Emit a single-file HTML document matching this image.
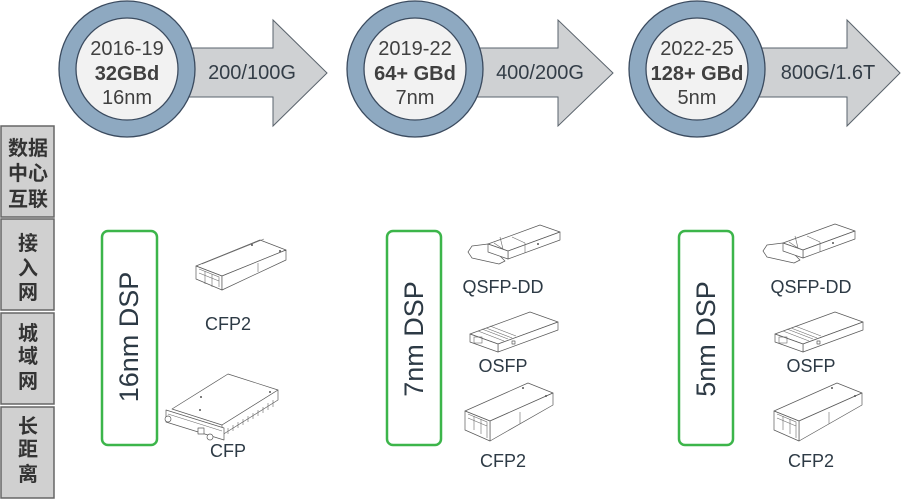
<!DOCTYPE html>
<html>
<head>
<meta charset="utf-8">
<style>
html,body{margin:0;padding:0;background:#fff;}
svg{display:block;}
.lat{font-family:"Liberation Sans","Noto Sans CJK SC",sans-serif;}
.cjk{font-family:"Liberation Sans","Noto Sans CJK SC",sans-serif;font-weight:bold;}
.m{fill:#fff;stroke:#5a5a5a;stroke-width:0.7;stroke-linejoin:round;}
.l{fill:none;stroke:#6a6a6a;stroke-width:0.6;}
</style>
</head>
<body>
<svg width="902" height="499" viewBox="0 0 902 499" xmlns="http://www.w3.org/2000/svg">
  <!-- Arrows -->
  <g fill="#cfd1d3" stroke="#5a636c" stroke-width="1">
    <polygon points="127,48 273,48 273,20 327,73 273,126 273,97 127,97"/>
    <polygon points="415,48 558,48 558,20 613,73 558,126 558,97 415,97"/>
    <polygon points="697,48 847,48 847,20 900,73 847,126 847,97 697,97"/>
  </g>
  <!-- Circles -->
  <g stroke="#3b4b5f" stroke-width="1.3">
    <circle cx="127" cy="69" r="68" fill="#8ea9c1"/>
    <circle cx="127" cy="69" r="51" fill="#f2f2f2"/>
    <circle cx="415" cy="69" r="68" fill="#8ea9c1"/>
    <circle cx="415" cy="69" r="51" fill="#f2f2f2"/>
    <circle cx="697" cy="69" r="68" fill="#8ea9c1"/>
    <circle cx="697" cy="69" r="51" fill="#f2f2f2"/>
  </g>
  <g class="lat" fill="#404040" font-size="20" text-anchor="middle">
    <text x="127" y="55">2016-19</text>
    <text x="127" y="80" font-weight="bold">32GBd</text>
    <text x="127" y="104">16nm</text>
    <text x="415" y="55">2019-22</text>
    <text x="415" y="80" font-weight="bold">64+ GBd</text>
    <text x="415" y="104">7nm</text>
    <text x="697" y="55">2022-25</text>
    <text x="697" y="80" font-weight="bold">128+ GBd</text>
    <text x="697" y="104">5nm</text>
  </g>
  <g class="lat" fill="#333d47" font-size="20" text-anchor="middle">
    <text x="252" y="79">200/100G</text>
    <text x="540" y="79">400/200G</text>
    <text x="828" y="79">800G/1.6T</text>
  </g>

  <!-- Left category boxes -->
  <g fill="#d0d0d0" stroke="#666" stroke-width="1.5">
    <rect x="1" y="126" width="53" height="91"/>
    <rect x="1" y="219" width="53" height="91"/>
    <rect x="1" y="313" width="53" height="91"/>
    <rect x="1" y="407" width="53" height="91"/>
  </g>
  <g class="cjk" fill="#333" font-size="20" text-anchor="middle">
    <text x="28" y="155">数据</text>
    <text x="28" y="180">中心</text>
    <text x="28" y="206">互联</text>
    <text x="28" y="250">接</text>
    <text x="28" y="275">入</text>
    <text x="28" y="299">网</text>
    <text x="28" y="340">城</text>
    <text x="28" y="363">域</text>
    <text x="28" y="388">网</text>
    <text x="28" y="433">长</text>
    <text x="28" y="456">距</text>
    <text x="28" y="481">离</text>
  </g>

  <!-- Green DSP boxes -->
  <g fill="#fff" stroke="#3cb54a" stroke-width="2.5">
    <rect x="102" y="231" width="55" height="214" rx="6"/>
    <rect x="387" y="231" width="54" height="214" rx="6"/>
    <rect x="679" y="231" width="54" height="214" rx="6"/>
  </g>
  <g class="lat" fill="#2d3a45" font-size="27" text-anchor="middle">
    <text transform="translate(138,337) rotate(-90)">16nm DSP</text>
    <text transform="translate(423,339) rotate(-90)">7nm DSP</text>
    <text transform="translate(715,339) rotate(-90)">5nm DSP</text>
  </g>

  <!-- Column 1 CFP2 -->
  <g>
    <polygon class="m" points="196,266 222,276 286,250 260,240"/>
    <polygon class="m" points="196,266 222,276 222,290 196,279"/>
    <polygon class="m" points="222,276 286,250 286,260 222,290"/>
    <polyline class="l" points="199,269 219,277 219,287"/>
    <line class="l" x1="199" y1="273" x2="219" y2="281"/>
    <line class="l" x1="205" y1="271" x2="205" y2="284"/>
    <line class="l" x1="212" y1="274" x2="212" y2="287"/>
    <line class="l" x1="202" y1="264" x2="264" y2="239"/>
    <line class="l" x1="258" y1="263" x2="258" y2="272"/>
    <circle cx="252" cy="245" r="1" fill="#555"/>
    <circle cx="280" cy="251" r="1" fill="#555"/>
  </g>
  <!-- Column 1 CFP -->
  <g>
    <polygon class="m" points="172,409 222,425 278,390 228,374"/>
    <polygon class="m" points="222,425 278,390 278,400 222,435"/>
    <polygon class="m" points="166,410 224,428 224,440 166,422"/>
    <line class="l" x1="168" y1="414" x2="222" y2="431"/>
    <rect x="198" y="428" width="6" height="6" class="m"/>
    <g class="l">
      <line x1="228" y1="428" x2="228" y2="434"/><line x1="233" y1="425" x2="233" y2="431"/>
      <line x1="238" y1="422" x2="238" y2="428"/><line x1="243" y1="419" x2="243" y2="425"/>
      <line x1="248" y1="416" x2="248" y2="422"/><line x1="253" y1="413" x2="253" y2="419"/>
      <line x1="258" y1="410" x2="258" y2="416"/><line x1="263" y1="407" x2="263" y2="413"/>
      <line x1="268" y1="403" x2="268" y2="410"/><line x1="273" y1="400" x2="273" y2="407"/>
    </g>
    <circle cx="168" cy="419" r="3" class="m"/>
    <circle cx="210" cy="437" r="3" class="m"/>
    <circle cx="201" cy="397" r="1" fill="#555"/>
    <circle cx="200" cy="410" r="1" fill="#555"/>
    <circle cx="270" cy="392" r="1" fill="#555"/>
  </g>
  <g class="lat" fill="#2d3a45" font-size="18" text-anchor="middle">
    <text x="228" y="330">CFP2</text>
    <text x="228" y="457">CFP</text>
  </g>

  <!-- Column 2 & 3 modules -->
  <defs>
    <g id="qsfp">
      <polygon class="m" points="468,252 472,246 488,244 496,252 505,261 499,264 472,258"/>
      <polygon class="m" points="488,244 508,251 560,232 540,225"/>
      <polygon class="m" points="508,251 560,232 560,240 508,259"/>
      <polygon class="m" points="488,244 508,251 508,259 488,252"/>
      <polyline class="l" points="494,243 503,249 500,237"/>
      <line class="l" x1="512" y1="237" x2="525" y2="243"/>
      <line class="l" x1="525" y1="243" x2="525" y2="253"/>
      <circle cx="538" cy="244" r="1" fill="#555"/>
    </g>
    <g id="osfp">
      <polygon class="m" points="470,334 498,344 558,322 530,312"/>
      <polygon class="m" points="498,344 558,322 558,330 498,352"/>
      <polygon class="m" points="470,334 498,344 498,352 470,342"/>
      <g class="l">
        <line x1="478" y1="331" x2="504" y2="341"/>
        <line x1="482" y1="329" x2="508" y2="339"/>
        <line x1="486" y1="328" x2="512" y2="338"/>
        <line x1="490" y1="326" x2="516" y2="336"/>
        <rect x="474" y="337" width="8" height="6"/>
      </g>
      <rect x="512" y="341" width="3" height="3" class="m"/>
    </g>
    <g id="cfp2">
      <polygon class="m" points="465,411 490,421 553,393 528,383"/>
      <polygon class="m" points="490,421 553,393 553,405 490,441"/>
      <polygon class="m" points="465,411 490,421 490,441 465,430"/>
      <polyline class="l" points="468,414 487,422 487,438"/>
      <line class="l" x1="468" y1="418" x2="487" y2="426"/>
      <line class="l" x1="474" y1="416" x2="474" y2="430"/>
      <line class="l" x1="481" y1="419" x2="481" y2="434"/>
      <line class="l" x1="520" y1="412" x2="520" y2="424"/>
      <circle cx="523" cy="388" r="1" fill="#555"/>
      <circle cx="546" cy="396" r="1" fill="#555"/>
    </g>
  </defs>
  <use href="#qsfp"/>
  <use href="#osfp"/>
  <use href="#cfp2"/>
  <use href="#qsfp" transform="translate(295,-1)"/>
  <use href="#osfp" transform="translate(305,0)"/>
  <use href="#cfp2" transform="translate(309,0)"/>

  <g class="lat" fill="#2d3a45" font-size="18" text-anchor="middle">
    <text x="503" y="293">QSFP-DD</text>
    <text x="503" y="372">OSFP</text>
    <text x="503" y="467">CFP2</text>
    <text x="811" y="293">QSFP-DD</text>
    <text x="811" y="372">OSFP</text>
    <text x="811" y="467">CFP2</text>
  </g>
</svg>
</body>
</html>
